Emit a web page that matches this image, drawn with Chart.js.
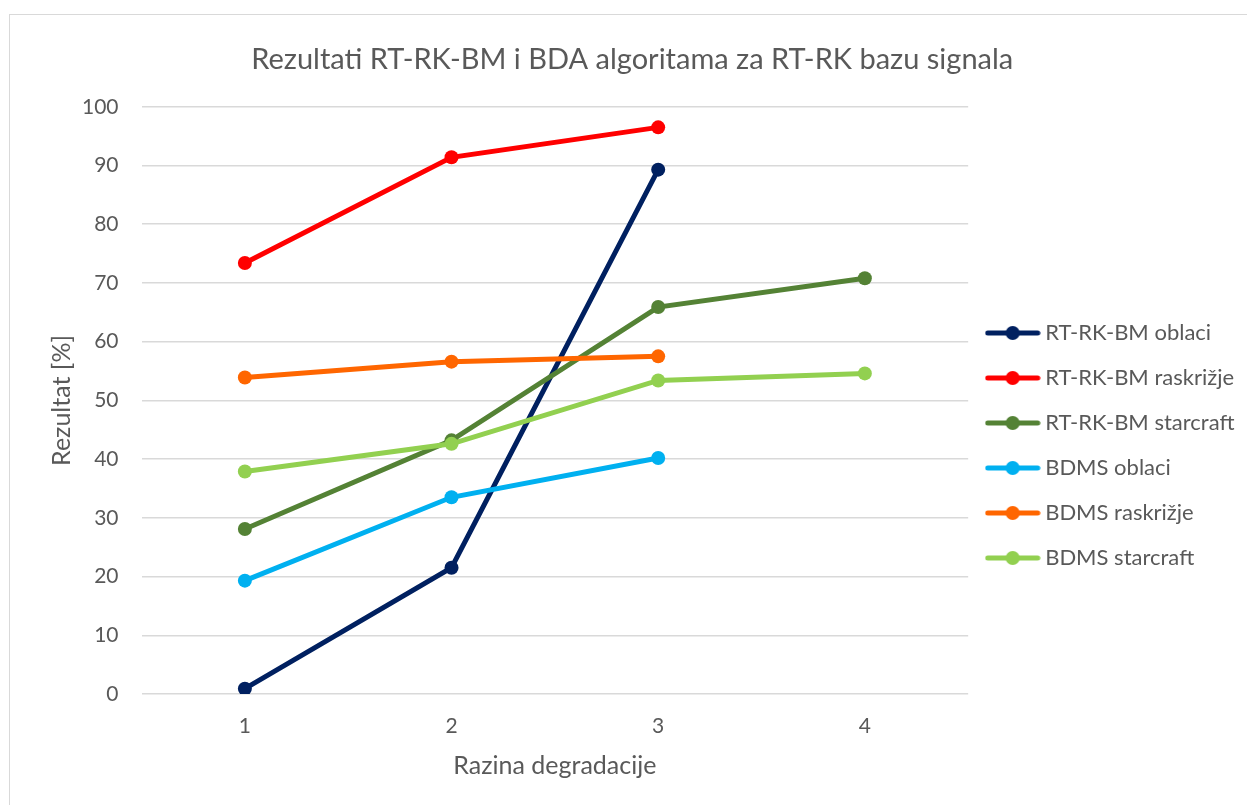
<!DOCTYPE html>
<html>
<head>
<meta charset="utf-8">
<script src="https://cdn.jsdelivr.net/npm/chart.js@4.4.0/dist/chart.umd.min.js"></script>
<style>
  html, body { margin: 0; padding: 0; background: #fff; }
  #wrap { position: relative; width: 1247px; height: 805px; }
  #frame { position: absolute; left: 9px; top: 14px; right: -2px; bottom: -2px;
           border-left: 1.5px solid #d9d9d9; border-top: 1.5px solid #d9d9d9; pointer-events: none; }
</style>
</head>
<body>
<div id="wrap">
  <canvas id="chart" width="1247" height="805"></canvas>
  <div id="frame"></div>
</div>
<script>
const categories = ['1', '2', '3', '4'];

const seriesNames = [
    'RT-RK-BM oblaci',
    'RT-RK-BM raskrižje',
    'RT-RK-BM starcraft',
    'BDMS oblaci',
    'BDMS raskrižje',
    'BDMS starcraft'
];

const rtrkOblaci    = [0.9, 21.5, 89.3, null];
const rtrkRaskrizje = [73.4, 91.4, 96.5, null];
const rtrkStarcraft = [28.1, 43.2, 65.9, 70.8];
const bdmsOblaci    = [19.3, 33.5, 40.2, null];
const bdmsRaskrizje = [53.9, 56.6, 57.5, null];
const bdmsStarcraft = [37.9, 42.6, 53.4, 54.6];

const seriesColors = ['#002060', '#FF0000', '#548235', '#00B0F0', '#FF6600', '#92D050'];

const textColor = '#595959';
const fontFamily = 'Lato, "Open Sans", sans-serif';

// small line-with-dot image for the legend, like Excel draws it
function legendSymbol(color) {
    const c = document.createElement('canvas');
    c.width = 56;
    c.height = 16;
    const g = c.getContext('2d');
    g.strokeStyle = color;
    g.lineWidth = 5;
    g.lineCap = 'round';
    g.beginPath();
    g.moveTo(3, 8);
    g.lineTo(53, 8);
    g.stroke();
    g.fillStyle = color;
    g.beginPath();
    g.arc(28, 8, 7, 0, Math.PI * 2);
    g.fill();
    return c;
}

const allSeries = [rtrkOblaci, rtrkRaskrizje, rtrkStarcraft, bdmsOblaci, bdmsRaskrizje, bdmsStarcraft];

const datasets = allSeries.map((values, i) => ({
    label: seriesNames[i],
    data: values,
    borderColor: seriesColors[i],
    backgroundColor: seriesColors[i],
    borderWidth: 5,
    pointRadius: 7,
    pointHoverRadius: 7,
    pointBorderWidth: 0,
    pointBackgroundColor: seriesColors[i],
    tension: 0,
    spanGaps: false,
    order: allSeries.length - i   // later series on top, like Excel
}));

const ctx = document.getElementById('chart').getContext('2d');
const chart = new Chart(ctx, {
    type: 'line',
    data: {
        labels: categories,
        datasets: datasets
    },
    options: {
        responsive: false,
        animation: false,
        devicePixelRatio: 1,
        layout: {
            padding: { left: 20, right: 2.5, top: 0, bottom: 23.8 }
        },
        plugins: {
            title: {
                display: true,
                text: 'Rezultati RT-RK-BM i BDA algoritama za RT-RK bazu signala',
                color: textColor,
                font: { family: fontFamily, size: 29, weight: 'normal' },
                padding: { top: 42, bottom: 30 }
            },
            legend: {
                position: 'right',
                align: 'center',
                title: {
                    display: true,
                    text: '',
                    font: { size: 12 },
                    padding: { top: 0, bottom: 95.4 }
                },
                labels: {
                    color: textColor,
                    font: { family: fontFamily, size: 22 },
                    usePointStyle: true,
                    pointStyleWidth: 43,
                    padding: 23,
                    generateLabels: (ch) => ch.data.datasets.map((ds, i) => ({
                        text: ds.label,
                        fillStyle: ds.borderColor,
                        strokeStyle: ds.borderColor,
                        lineWidth: 0,
                        pointStyle: legendSymbol(ds.borderColor),
                        hidden: !ch.isDatasetVisible(i),
                        datasetIndex: i,
                        fontColor: textColor
                    }))
                }
            },
            tooltip: { enabled: false }
        },
        scales: {
            x: {
                offset: true,
                grid: { display: false, drawTicks: false },
                border: { display: false },
                ticks: {
                    color: textColor,
                    font: { family: fontFamily, size: 21 },
                    padding: 20
                },
                title: {
                    display: true,
                    text: 'Razina degradacije',
                    color: textColor,
                    font: { family: fontFamily, size: 25 },
                    padding: { top: -8, bottom: 0 }
                }
            },
            y: {
                min: 0,
                max: 100,
                grid: { color: '#d9d9d9', lineWidth: 1.5, drawTicks: false },
                border: { display: false },
                ticks: {
                    stepSize: 10,
                    color: textColor,
                    font: { family: fontFamily, size: 21 },
                    padding: 23
                },
                title: {
                    display: true,
                    text: 'Rezultat [%]',
                    color: textColor,
                    font: { family: fontFamily, size: 25 },
                    padding: { top: 27, bottom: -18 }
                }
            }
        }
    }
});
</script>
</body>
</html>
